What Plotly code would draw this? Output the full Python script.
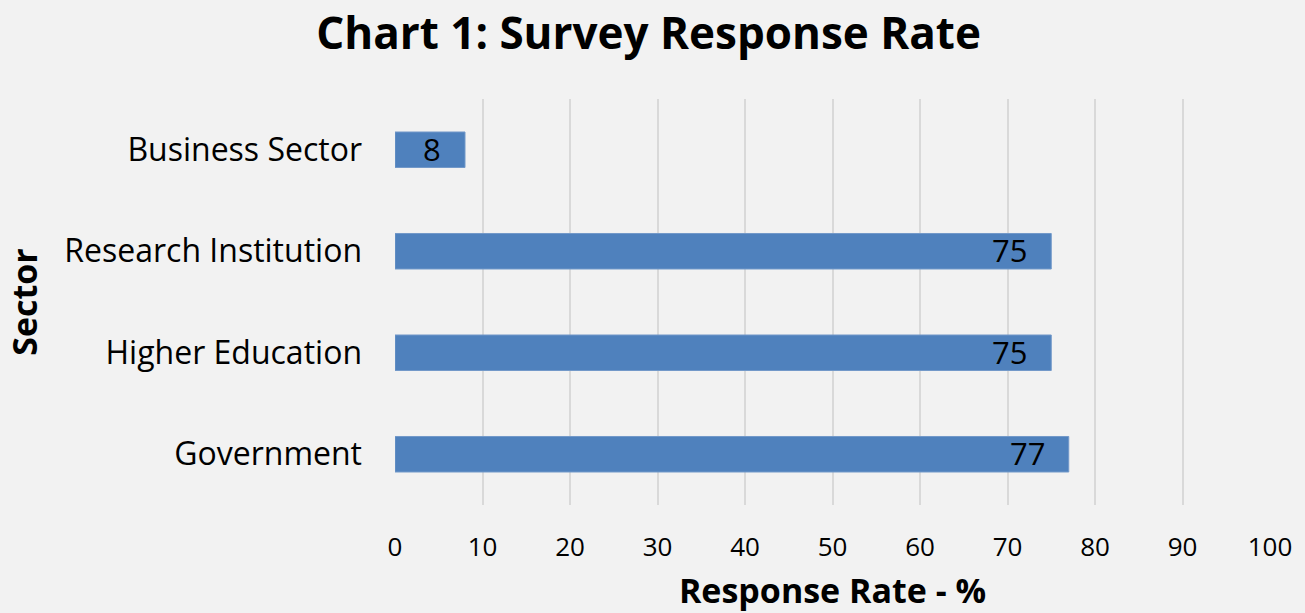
import plotly.graph_objects as go

sectors = ["Government", "Higher Education", "Research Institution", "Business Sector"]
rates = [77, 75, 75, 8]
x_ticks = [0, 10, 20, 30, 40, 50, 60, 70, 80, 90, 100]

FONT = "Open Sans"

fig = go.Figure(go.Bar(
    y=sectors, x=rates, orientation="h",
    marker=dict(color="#4F81BD", line=dict(color="#7399C9", width=1)),
    width=0.35, hoverinfo="x+y",
))

for s, v in zip(sectors, rates):
    fig.add_annotation(x=v, y=s, text=str(v), showarrow=False, xanchor="right",
                       xshift=-22, yshift=1, font=dict(family=FONT, size=31, color="#000000"))

fig.update_layout(
    width=1305, height=613,
    paper_bgcolor="#F2F2F2", plot_bgcolor="#F2F2F2",
    margin=dict(l=395, r=35, t=99, b=108),
    title=dict(text="<b>Chart 1: Survey Response Rate</b>", x=0.497, xanchor="center",
               y=0.946, yanchor="middle", font=dict(family=FONT, size=44, color="#000000")),
    showlegend=False,
    font=dict(family=FONT, color="#000000"),
)
fig.update_xaxes(range=[0, 100], tickvals=x_ticks, showgrid=True, gridcolor="#D9D9D9", gridwidth=1.5,
                 zeroline=False, showline=False, tickfont=dict(family=FONT, size=26),
                 ticks="", ticklabelstandoff=24, automargin=False,
                 title=dict(text="<b>Response Rate - %</b>", font=dict(family=FONT, size=34), standoff=16))
fig.update_yaxes(showgrid=False, ticks="", tickfont=dict(family=FONT, size=32),
                 range=[-0.5, 3.5], ticklabelstandoff=32, automargin=False,
                 title=dict(text="<b>Sector</b>", font=dict(family=FONT, size=34), standoff=16))

fig.write_html("out.html")
